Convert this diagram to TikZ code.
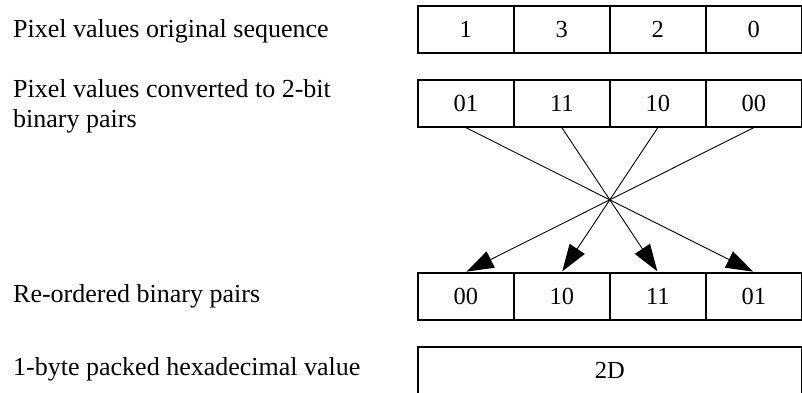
\documentclass[tikz,border=0pt]{standalone}
\usepackage{fontspec}
\setmainfont{Liberation Serif}
\usetikzlibrary{arrows.meta}
\begin{document}
\begin{tikzpicture}[x=1pt,y=-1pt,
  cell/.style={draw, line width=1.6pt, minimum width=96pt, minimum height=47pt, inner sep=0pt, anchor=north west, font=\fontsize{24.5}{28}\selectfont},
  lbl/.style={anchor=base west, inner sep=0pt, align=left, font=\fontsize{26}{30}\selectfont},
  conn/.style={line width=0.9pt, -{Triangle[length=27pt,width=18pt]}, shorten >=0.8pt}]
\useasboundingbox (0,0) rectangle (802,392);
% row 1
\node[cell] (a1) at (417,5) {1};
\node[cell] (a2) at (513,5) {3};
\node[cell] (a3) at (609,5) {2};
\node[cell] (a4) at (705,5) {0};
% row 2
\node[cell] (b1) at (417,79) {01};
\node[cell] (b2) at (513,79) {11};
\node[cell] (b3) at (609,79) {10};
\node[cell] (b4) at (705,79) {00};
% row 3
\node[cell] (c1) at (417,272) {00};
\node[cell] (c2) at (513,272) {10};
\node[cell] (c3) at (609,272) {11};
\node[cell] (c4) at (705,272) {01};
% row 4
\node[cell, minimum width=384pt] (d) at (417,346) {2D};
% labels
\node[lbl] (l1) at (13,37) {Pixel values original sequence};
\node[lbl] (l2) at (13,127) {Pixel values converted to 2-bit\\binary pairs};
\node[lbl] (l3) at (13,302) {Re-ordered binary pairs};
\node[lbl] (l4) at (13,375) {1-byte packed hexadecimal value};
% connectors
\draw[conn] (b1.south) -- (c4.north);
\draw[conn] (b2.south) -- (c3.north);
\draw[conn] (b3.south) -- (c2.north);
\draw[conn] (b4.south) -- (c1.north);
\end{tikzpicture}
\end{document}
